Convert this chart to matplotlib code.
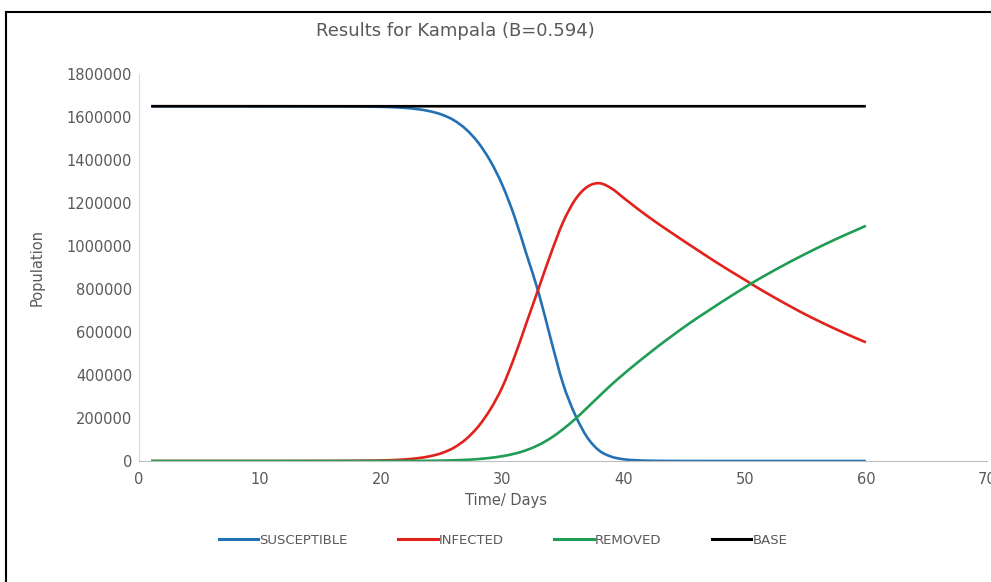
import numpy as np
import matplotlib
matplotlib.use('Agg')
import matplotlib.pyplot as plt
from matplotlib.lines import Line2D
from matplotlib.path import Path
from matplotlib.patches import PathPatch

# SIR model output, one value per day
days = list(range(1, 61))

susceptible = [1649999, 1649998, 1649997, 1649996, 1649994, 1649990, 1649985, 1649978, 1649966, 1649949,
               1649924, 1649886, 1649831, 1649746, 1649620, 1649430, 1649155, 1648734, 1648102, 1647255,
               1645360, 1642100, 1636320, 1626850, 1611050, 1584700, 1542500, 1481000, 1395500, 1282500,
               1136000, 959000, 780000, 565000, 360000, 215000, 110000, 48000, 20000, 8000,
               3500, 1500, 650, 280, 120, 55, 25, 12, 6, 3,
               2, 1, 1, 1, 1, 1, 1, 1, 1, 1]

infected = [1, 2, 3, 4, 6, 9, 14, 21, 32, 48,
            72, 108, 160, 240, 360, 540, 800, 1200, 1800, 2600,
            4400, 7500, 13000, 22000, 37000, 62000, 102000, 160000, 240000, 345000,
            485000, 645000, 805000, 965000, 1110000, 1215000, 1275000, 1292000, 1268000, 1224000,
            1180000, 1138000, 1098000, 1060000, 1022000, 985000, 948000, 912000, 877000, 843000,
            808000, 775000, 743000, 712000, 682000, 654000, 627000, 601000, 576000, 552000]

removed = [0, 0, 0, 0, 0, 1, 1, 1, 2, 3,
           4, 6, 9, 14, 20, 30, 45, 66, 98, 145,
           240, 400, 680, 1150, 1950, 3300, 5500, 9000, 14500, 22500,
           34000, 51000, 75000, 107000, 148000, 195000, 248000, 302000, 355000, 404000,
           451000, 496000, 540000, 582000, 623000, 662000, 699000, 736000, 772000, 807000,
           841000, 873000, 904000, 934000, 963000, 991000, 1018000, 1044000, 1069000, 1094000]

base = [1650000] * 60

series_names = ["SUSCEPTIBLE", "INFECTED", "REMOVED", "BASE"]
colors = ["#2371B4", "#E3211C", "#1F9D55", "#000000"]
grey = "#595959"


def smooth_line(ax, x, y, color, lw):
    # Excel style smoothed line: cubic bezier through every data point
    pts = np.column_stack([x, y]).astype(float)
    n = len(pts)
    verts = [pts[0]]
    codes = [Path.MOVETO]
    for i in range(n - 1):
        p0 = pts[i - 1] if i > 0 else pts[i]
        p1 = pts[i]
        p2 = pts[i + 1]
        p3 = pts[i + 2] if i + 2 < n else pts[i + 1]
        verts += [p1 + (p2 - p0) / 6, p2 - (p3 - p1) / 6, p2]
        codes += [Path.CURVE4] * 3
    patch = PathPatch(Path(verts, codes), fill=False, edgecolor=color, lw=lw,
                      joinstyle='round', capstyle='butt')
    ax.add_patch(patch)


fig = plt.figure(figsize=(9.91, 5.82), dpi=100)
ax = fig.add_axes([139 / 991, 121 / 582, 848 / 991, 387 / 582])

for vals, col in zip([susceptible, infected, removed, base], colors):
    smooth_line(ax, days, vals, col, 1.9)

ax.set_xlim(0, 70)
ax.set_ylim(0, 1800000)
ax.set_xticks(range(0, 71, 10))
ax.set_yticks(range(0, 1800001, 200000))
ax.set_yticklabels([str(v) for v in range(0, 1800001, 200000)])
ax.tick_params(axis='y', length=0, labelsize=10.5, colors=grey, pad=5)
ax.tick_params(axis='x', length=0, labelsize=10.5, colors=grey, pad=8)
ax.spines['top'].set_visible(False)
ax.spines['right'].set_visible(False)
ax.spines['left'].set_color("#D9D9D9")
ax.spines['bottom'].set_color("#BFBFBF")

ax.set_ylabel("Population", fontsize=10.5, color=grey, labelpad=16)
fig.text(506 / 991, 1 - 501 / 582, "Time/ Days", fontsize=10.5, color=grey, ha='center', va='center')
fig.text(455 / 991, 1 - 31 / 582, "Results for Kampala (B=0.594)", fontsize=13, color=grey,
         ha='center', va='center')

handles = [Line2D([0], [0], color=c, lw=2.2) for c in colors]
leg = fig.legend(handles, series_names, loc='center', bbox_to_anchor=(503 / 991, 1 - 540 / 582),
                 ncol=4, frameon=False, fontsize=9.5, handlelength=3.0, handletextpad=0.1,
                 columnspacing=3.8)
for t in leg.get_texts():
    t.set_color(grey)

# frame around the picture (right and bottom edges are cropped off)
fig.add_artist(Line2D([6 / 991, 6 / 991], [0, 1 - 12 / 582], color='black', lw=1.5, transform=fig.transFigure))
fig.add_artist(Line2D([6 / 991, 1], [1 - 12 / 582, 1 - 12 / 582], color='black', lw=1.5, transform=fig.transFigure))

fig.savefig("out.png", dpi=100)
